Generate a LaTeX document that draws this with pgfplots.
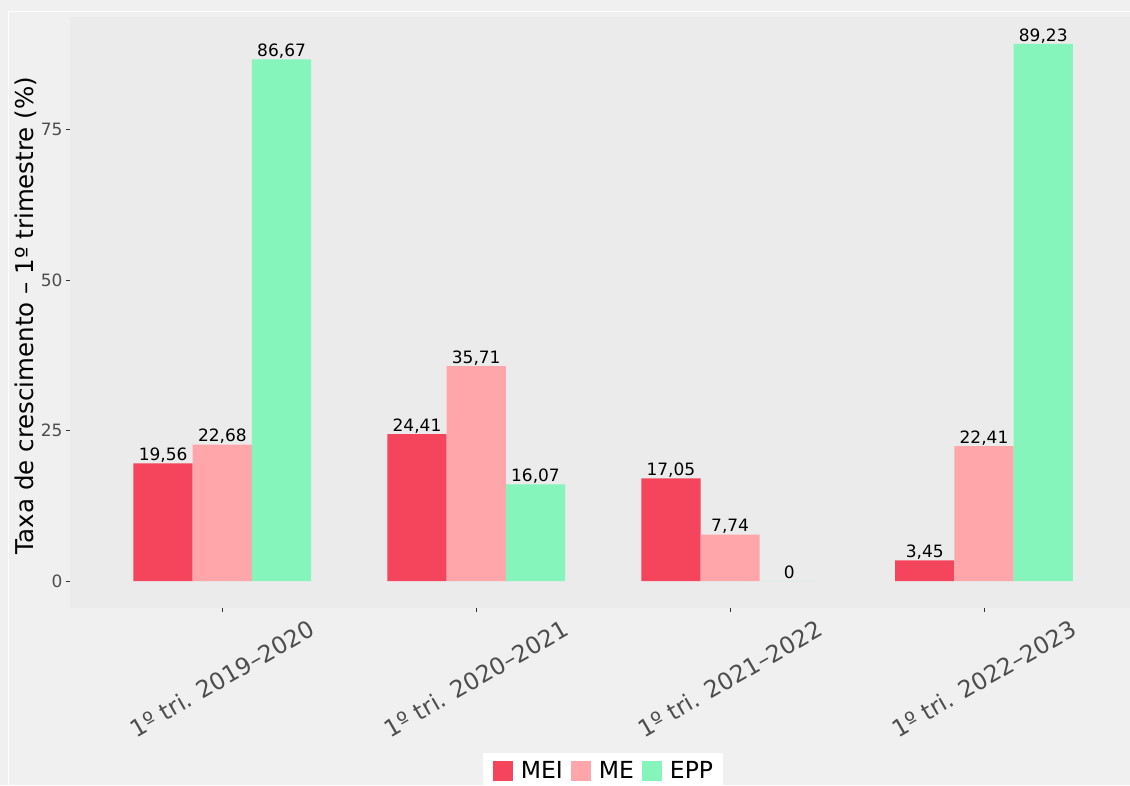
\documentclass[border=0pt]{standalone}
\usepackage{pgfplots}
\pgfplotsset{compat=1.18}
\usepackage{fontspec}
\setmainfont{DejaVu Sans}
\definecolor{bgc}{HTML}{F0F0F0}
\definecolor{panel}{HTML}{EBEBEB}
\definecolor{cMEI}{HTML}{F5455C}
\definecolor{cME}{HTML}{FFA6AA}
\definecolor{cEPP}{HTML}{86F5BC}
\definecolor{tickc}{HTML}{4D4D4D}
\begin{document}
\begin{tikzpicture}[x=1pt,y=1pt]
\fill[bgc] (0,0) rectangle (1130,785);
\draw[white, line width=1pt] (8.5,-20) -- (8.5,773.5) -- (1150,773.5);
\begin{axis}[
  at={(70pt,177pt)}, anchor=south west,
  scale only axis, width=1060pt, height=591pt,
  xmin=0.4, xmax=4.575, ymin=-4.4615, ymax=93.69,
  axis background/.style={fill=panel},
  axis line style={draw=none},
  ybar, bar width=0.2333,
  xtick={1,2,3,4},
  xticklabels={1º tri. 2019–2020, 1º tri. 2020–2021, 1º tri. 2021–2022, 1º tri. 2022–2023},
  ytick={0,25,50,75},
  xtick pos=bottom, ytick pos=left,
  tick align=outside, major tick length=4pt,
  tick style={color=black!80, line width=1pt},
  /pgf/number format/assume math mode=true,
  yticklabel style={font=\fontsize{17}{17}\selectfont, text=tickc},
  xticklabel style={font=\fontsize{23.5}{23.5}\selectfont, text=tickc, yshift=-66.5pt, rotate=30, anchor=center},
  ylabel={Taxa de crescimento – 1º trimestre (\%)},
  ylabel style={at={(axis description cs:-0.0349,0.495)}, anchor=base, font=\fontsize{24.5}{24.5}\selectfont},
  point meta=explicit symbolic,
  nodes near coords,
  nodes near coords align={anchor=base},
  every node near coord/.append style={font=\fontsize{17}{17}\selectfont, text=black, inner sep=0pt, anchor=base, yshift=2.7pt},
  legend columns=3,
  legend style={at={(0.5028,-0.2453)}, anchor=north, draw=none, fill=white,
    font=\fontsize{23.5}{24}\selectfont, inner xsep=10pt, inner ysep=8pt,
    nodes={inner sep=0pt, anchor=west},
    /tikz/every odd column/.append style={column sep=8pt},
    /tikz/every even column/.append style={column sep=8pt}},
  legend image code/.code={\fill[#1,draw=none] (0pt,-10pt) rectangle (20pt,10pt);},
]
\addplot[fill=cMEI, draw=none, bar shift=-0.2333] coordinates {(1,19.56) [19,56] (2,24.41) [24,41] (3,17.05) [17,05] (4,3.45) [3,45]};
\addplot[fill=cME, draw=none, bar shift=0] coordinates {(1,22.68) [22,68] (2,35.71) [35,71] (3,7.74) [7,74] (4,22.41) [22,41]};
\addplot[fill=cEPP, draw=none, bar shift=0.2333] coordinates {(1,86.67) [86,67] (2,16.07) [16,07] (3,0) [0] (4,89.23) [89,23]};
\legend{MEI, ME, EPP}
\end{axis}
\pgfresetboundingbox
\path[use as bounding box] (0,0) rectangle (1130,785);
\end{tikzpicture}
\end{document}
